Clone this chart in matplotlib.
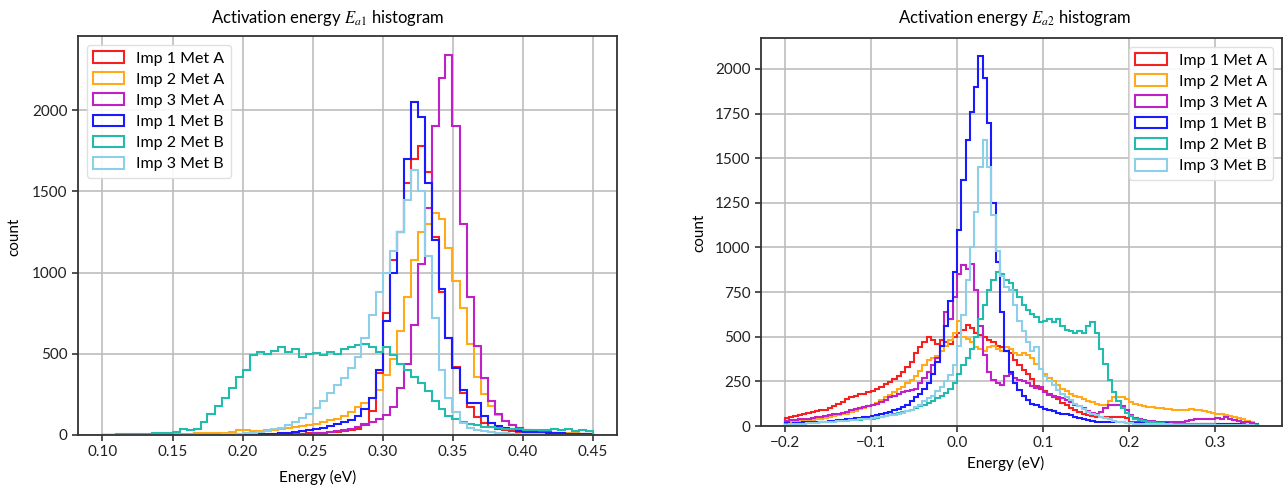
import numpy as np
import matplotlib
matplotlib.use("Agg")
import matplotlib.pyplot as plt
from matplotlib.ticker import MultipleLocator

plt.rcParams['font.family'] = ['Lato', 'DejaVu Sans']
plt.rcParams['mathtext.fontset'] = 'stix'

labels = ['Imp 1 Met A', 'Imp 2 Met A', 'Imp 3 Met A',
          'Imp 1 Met B', 'Imp 2 Met B', 'Imp 3 Met B']
colors = ['#f52020', '#ffaa1a', '#c020c8', '#1a1aff', '#22bcae', '#8ccfe8']

# ---- E_a1 histogram: bin edges 0.100 .. 0.450 eV, width 0.005 eV ----
ea1_edges = np.round(np.arange(0.100, 0.4501, 0.005), 4)

ea1_imp1_metA = [0, 0, 0, 0, 0, 1, 1, 1, 1, 1,
                 1, 1, 1, 1, 2, 2, 2, 2, 2, 2,
                 2, 2, 3, 3, 4, 5, 6, 7, 8, 10,
                 12, 14, 17, 20, 24, 28, 35, 60, 150, 380,
                 750, 1080, 1250, 1550, 1700, 1780, 1620, 1220, 880, 600,
                 420, 260, 170, 110, 75, 50, 38, 30, 25, 20,
                 17, 15, 13, 11, 10, 9, 8, 7, 6, 5]
ea1_imp2_metA = [0, 0, 1, 1, 2, 2, 3, 3, 4, 5,
                 6, 7, 8, 10, 11, 12, 14, 15, 18, 28,
                 32, 22, 25, 28, 32, 36, 42, 48, 55, 62,
                 70, 80, 90, 100, 118, 140, 170, 200, 230, 280,
                 370, 470, 640, 850, 1080, 1250, 1300, 1370, 1330, 1150,
                 950, 780, 560, 360, 250, 180, 125, 85, 60, 45,
                 30, 25, 20, 17, 15, 13, 12, 10, 9, 8]
ea1_imp3_metA = [0, 0, 0, 0, 0, 0, 0, 0, 0, 0,
                 0, 0, 0, 0, 0, 1, 1, 1, 1, 1,
                 1, 1, 2, 2, 3, 3, 4, 5, 6, 8,
                 10, 13, 17, 22, 28, 38, 50, 65, 80, 100,
                 125, 170, 290, 440, 680, 1050, 1400, 1900, 2200, 2340,
                 1900, 1300, 850, 550, 350, 210, 130, 85, 60, 42,
                 30, 24, 20, 16, 13, 11, 9, 8, 6, 5]
ea1_imp1_metB = [0, 0, 0, 0, 0, 0, 0, 0, 1, 1,
                 1, 1, 1, 2, 2, 2, 2, 3, 3, 3,
                 3, 4, 5, 7, 9, 12, 15, 20, 25, 30,
                 38, 45, 55, 70, 80, 95, 120, 160, 230, 400,
                 700, 1000, 1250, 1700, 2050, 1960, 1550, 1200, 900, 600,
                 410, 280, 200, 195, 115, 75, 55, 45, 35, 25,
                 20, 17, 15, 13, 11, 10, 9, 8, 7, 6]
ea1_imp2_metB = [2, 3, 4, 5, 6, 8, 9, 10, 12, 14,
                 18, 40, 28, 40, 80, 130, 180, 230, 290, 360,
                 400, 490, 510, 500, 520, 540, 510, 530, 480, 500,
                 505, 490, 510, 500, 530, 540, 555, 560, 540, 510,
                 540, 490, 440, 400, 360, 320, 270, 210, 160, 120,
                 100, 80, 70, 60, 52, 48, 42, 40, 38, 35,
                 33, 30, 32, 28, 40, 30, 35, 25, 28, 22]
ea1_imp3_metB = [0, 0, 0, 0, 0, 0, 0, 0, 0, 0,
                 0, 0, 0, 0, 1, 2, 3, 5, 7, 9,
                 12, 15, 20, 26, 34, 45, 60, 80, 105, 130,
                 165, 210, 260, 310, 350, 410, 480, 600, 740, 880,
                 1000, 1130, 1250, 1450, 1630, 1500, 1100, 720, 400, 230,
                 140, 75, 45, 30, 22, 16, 12, 10, 8, 7,
                 6, 5, 4, 3, 3, 2, 2, 2, 1, 1]

# ---- E_a2 histogram: bin edges -0.200 .. 0.350 eV, width 0.005 eV ----
ea2_edges = np.round(np.arange(-0.200, 0.3501, 0.005), 4)

ea2_imp1_metA = [45, 50, 55, 62, 70, 72, 78, 85, 88, 92,
                 100, 110, 125, 135, 150, 165, 170, 178, 182, 190,
                 198, 205, 220, 235, 245, 265, 280, 300, 330, 360,
                 410, 440, 470, 500, 480, 460, 480, 470, 460, 500,
                 520, 540, 565, 550, 520, 510, 500, 480, 470, 450,
                 440, 420, 410, 370, 340, 315, 290, 265, 225, 205,
                 195, 175, 165, 150, 130, 115, 100, 90, 80, 70,
                 60, 55, 52, 50, 52, 50, 52, 50, 48, 45,
                 25, 22, 20, 20, 18, 18, 17, 17, 16, 16,
                 15, 15, 15, 14, 14, 14, 13, 13, 13, 12,
                 12, 12, 11, 11, 10, 10, 9, 8, 7, 6]
ea2_imp2_metA = [20, 22, 25, 27, 30, 32, 35, 38, 40, 45,
                 50, 55, 60, 65, 70, 78, 85, 95, 100, 110,
                 120, 130, 145, 160, 175, 190, 205, 220, 240, 260,
                 280, 310, 340, 370, 380, 390, 420, 450, 480, 520,
                 590, 500, 490, 470, 440, 430, 420, 440, 450, 430,
                 420, 440, 430, 410, 400, 410, 400, 380, 350, 320,
                 290, 270, 250, 230, 210, 195, 180, 170, 160, 150,
                 140, 135, 125, 118, 115, 140, 160, 165, 160, 150,
                 135, 125, 115, 110, 108, 105, 102, 100, 98, 95,
                 92, 90, 88, 90, 95, 92, 88, 85, 80, 75,
                 70, 65, 60, 55, 50, 45, 38, 30, 22, 12]
ea2_imp3_metA = [30, 32, 35, 38, 40, 42, 45, 48, 52, 55,
                 60, 65, 70, 75, 80, 88, 95, 100, 105, 110,
                 115, 125, 135, 145, 160, 170, 180, 190, 195, 200,
                 210, 240, 270, 300, 340, 380, 450, 640, 600, 720,
                 850, 900, 880, 910, 760, 560, 400, 300, 260, 240,
                 230, 280, 290, 270, 260, 250, 240, 225, 215, 220,
                 190, 180, 170, 160, 155, 145, 135, 120, 110, 100,
                 85, 75, 70, 80, 100, 115, 120, 118, 110, 90,
                 60, 45, 38, 33, 30, 27, 25, 22, 21, 20,
                 20, 22, 25, 28, 32, 38, 42, 40, 38, 42,
                 45, 42, 48, 40, 35, 30, 25, 20, 15, 10]
ea2_imp1_metB = [15, 14, 17, 18, 20, 22, 20, 24, 25, 24,
                 28, 30, 33, 35, 38, 40, 43, 45, 48, 52,
                 56, 62, 68, 72, 80, 88, 98, 105, 120, 140,
                 160, 180, 210, 240, 290, 360, 450, 560, 700, 860,
                 1100, 1380, 1600, 1760, 1900, 2070, 1950, 1700, 1250, 920,
                 640, 420, 300, 240, 200, 170, 145, 125, 115, 105,
                 95, 90, 82, 75, 70, 65, 60, 52, 45, 40,
                 32, 28, 25, 24, 22, 22, 20, 20, 20, 18,
                 18, 18, 17, 17, 16, 16, 15, 15, 15, 14,
                 14, 14, 13, 13, 13, 12, 12, 12, 11, 11,
                 11, 10, 10, 10, 9, 9, 8, 8, 7, 6]
ea2_imp2_metB = [10, 10, 12, 12, 14, 15, 17, 18, 20, 22,
                 22, 25, 27, 28, 30, 32, 35, 35, 38, 40,
                 42, 45, 50, 55, 62, 68, 75, 80, 85, 90,
                 100, 110, 120, 130, 140, 155, 170, 185, 210, 240,
                 290, 340, 380, 430, 500, 600, 680, 760, 820, 860,
                 850, 820, 800, 760, 720, 680, 650, 630, 610, 580,
                 590, 600, 580, 600, 560, 540, 530, 520, 530, 520,
                 560, 580, 520, 430, 350, 260, 190, 140, 100, 75,
                 55, 42, 35, 28, 24, 20, 18, 16, 14, 13,
                 12, 12, 11, 11, 10, 10, 10, 9, 9, 9,
                 8, 8, 8, 7, 7, 6, 6, 5, 5, 4]
ea2_imp3_metB = [8, 10, 12, 12, 14, 15, 17, 18, 20, 22,
                 24, 25, 27, 28, 30, 32, 35, 37, 40, 42,
                 45, 48, 50, 55, 60, 63, 68, 75, 82, 92,
                 105, 120, 140, 155, 170, 195, 220, 250, 285, 340,
                 450, 620, 820, 1000, 1200, 1450, 1600, 1450, 1180, 980,
                 840, 780, 760, 680, 590, 530, 470, 420, 440, 320,
                 280, 250, 230, 200, 180, 160, 145, 125, 110, 95,
                 80, 70, 60, 52, 45, 38, 30, 25, 20, 18,
                 15, 14, 13, 12, 12, 11, 10, 10, 9, 9,
                 8, 8, 8, 7, 7, 7, 6, 6, 6, 6,
                 5, 5, 5, 4, 4, 4, 3, 3, 3, 2]

ea1_series = [ea1_imp1_metA, ea1_imp2_metA, ea1_imp3_metA,
              ea1_imp1_metB, ea1_imp2_metB, ea1_imp3_metB]
ea2_series = [ea2_imp1_metA, ea2_imp2_metA, ea2_imp3_metA,
              ea2_imp1_metB, ea2_imp2_metB, ea2_imp3_metB]

W, H = 1284, 488
fig = plt.figure(figsize=(W / 100, H / 100), dpi=100)


def frac_box(x0, y0, x1, y1):
    """Pixel box (top-left origin) -> figure fraction rect."""
    return [x0 / W, 1 - y1 / H, (x1 - x0) / W, (y1 - y0) / H]


def draw_panel(ax, edges, series, ystep, xstep, legend_loc):
    centers = (edges[:-1] + edges[1:]) / 2
    for counts, col, lab in zip(series, colors, labels):
        ax.hist(centers, bins=edges, weights=counts, histtype='step',
                color=col, lw=1.5, label=lab)
    ax.yaxis.set_major_locator(MultipleLocator(ystep))
    ax.xaxis.set_major_locator(MultipleLocator(xstep))
    ax.grid(True, color='#bdbdbd', lw=1.2)
    ax.set_axisbelow(True)
    for s in ax.spines.values():
        s.set_color('#333333')
        s.set_linewidth(1.3)
    ax.tick_params(labelsize=11, colors='#222222', length=4, width=1.1)
    leg = ax.legend(loc=legend_loc, fontsize=11.5, handlelength=1.95,
                    handleheight=0.75, labelspacing=0.42, handletextpad=0.75,
                    borderpad=0.4, borderaxespad=0.55, framealpha=0.9)
    leg.get_frame().set_edgecolor('#dddddd')


ax1 = fig.add_axes(frac_box(78, 36, 617, 435))
draw_panel(ax1, ea1_edges, ea1_series, 500, 0.05, 'upper left')

ax2 = fig.add_axes(frac_box(761, 38, 1282, 426))
draw_panel(ax2, ea2_edges, ea2_series, 250, 0.1, 'upper right')

# titles and axis labels
fig.text(328 / W, 1 - 18 / H, r'Activation energy $E_{a1}$ histogram',
         ha='center', va='center', fontsize=12)
fig.text(1015 / W, 1 - 18 / H, r'Activation energy $E_{a2}$ histogram',
         ha='center', va='center', fontsize=12)
fig.text(318 / W, 1 - 477 / H, 'Energy (eV)', ha='center', va='center', fontsize=11)
fig.text(1006 / W, 1 - 463 / H, 'Energy (eV)', ha='center', va='center', fontsize=11)
fig.text(14 / W, 1 - 237 / H, 'count', ha='center', va='center',
         rotation=90, fontsize=11)
fig.text(699 / W, 1 - 233 / H, 'count', ha='center', va='center',
         rotation=90, fontsize=11)

fig.savefig('out.png', dpi=100)
